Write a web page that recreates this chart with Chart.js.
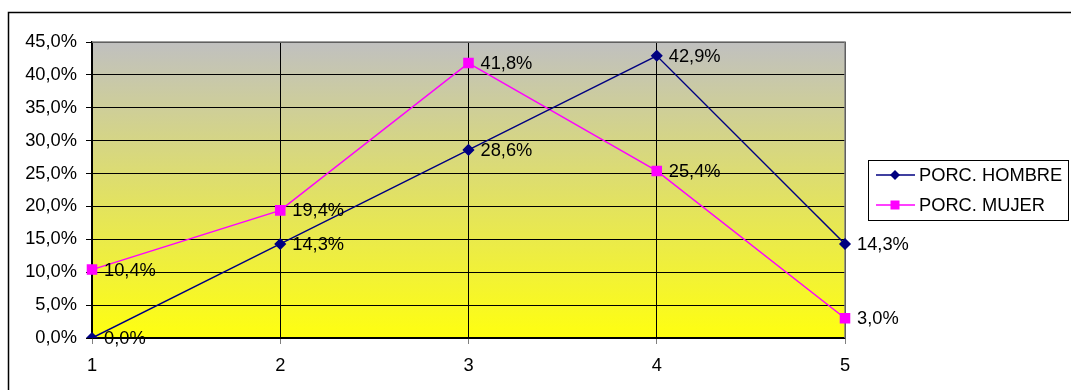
<!DOCTYPE html>
<html lang="es">
<head>
<meta charset="UTF-8" />
<title>Porcentaje hombre / mujer</title>
<style>
  html, body { margin: 0; padding: 0; background: #fff; }
  #wrap { position: relative; width: 1071px; height: 390px; }
</style>
</head>
<body>
<div id="wrap">
  <canvas id="grafico" width="1071" height="390"></canvas>
</div>

<script src="https://cdn.jsdelivr.net/npm/chart.js"></script>
<script>
  // datos
  const categorias = ['1', '2', '3', '4', '5'];
  const porcHombre = [0.0, 14.3, 28.6, 42.9, 14.3];
  const porcMujer = [10.4, 19.4, 41.8, 25.4, 3.0];
  const nombres = ['PORC. HOMBRE', 'PORC. MUJER'];
  const colores = ['#000080', '#ff00ff'];

  const fuente = '18.3px "Liberation Sans", Arial, sans-serif';

  function fmt(v) {
    return v.toFixed(1).replace('.', ',') + '%';
  }

  // fondo degradado + marco exterior
  const fondo = {
    id: 'fondo',
    beforeDraw(chart) {
      const { ctx, chartArea: a } = chart;
      ctx.save();
      ctx.strokeStyle = '#000';
      ctx.lineWidth = 1.5;
      ctx.strokeRect(8.5, 12.5, 1080, 400);
      const g = ctx.createLinearGradient(0, a.top, 0, a.bottom);
      g.addColorStop(0, '#c0c0c0');
      g.addColorStop(1, '#ffff10');
      ctx.fillStyle = g;
      ctx.fillRect(a.left, a.top, a.right - a.left, a.bottom - a.top);
      ctx.restore();
    },
    beforeDatasetsDraw(chart) {
      const { ctx, chartArea: a } = chart;
      ctx.save();
      ctx.strokeStyle = '#808080';
      ctx.lineWidth = 1.5;
      ctx.beginPath();
      ctx.moveTo(a.left, a.top);
      ctx.lineTo(a.right, a.top);
      ctx.lineTo(a.right, a.bottom);
      ctx.stroke();
      ctx.restore();
    }
  };

  // etiquetas de valores y leyenda
  const etiquetas = {
    id: 'etiquetas',
    afterDatasetsDraw(chart) {
      const ctx = chart.ctx;
      ctx.save();
      ctx.font = fuente;
      ctx.fillStyle = '#000';
      ctx.textBaseline = 'middle';
      ctx.textAlign = 'left';
      chart.data.datasets.forEach((ds, i) => {
        chart.getDatasetMeta(i).data.forEach((p, j) => {
          ctx.fillText(fmt(ds.data[j]), p.x + 12, p.y + 1);
        });
      });

      // leyenda
      const lx = 868, ly = 160, lw = 200, lh = 60;
      ctx.fillStyle = '#fff';
      ctx.fillRect(lx, ly, lw, lh);
      ctx.strokeStyle = '#000';
      ctx.lineWidth = 1;
      ctx.strokeRect(lx + 0.5, ly + 0.5, lw, lh);
      nombres.forEach((n, i) => {
        const y = ly + 15 + i * 30;
        ctx.strokeStyle = colores[i];
        ctx.lineWidth = 1.5;
        ctx.beginPath();
        ctx.moveTo(876, y);
        ctx.lineTo(915, y);
        ctx.stroke();
        ctx.fillStyle = colores[i];
        ctx.beginPath();
        if (i === 0) {
          ctx.moveTo(895 - 5, y);
          ctx.lineTo(895, y - 5);
          ctx.lineTo(895 + 5, y);
          ctx.lineTo(895, y + 5);
          ctx.closePath();
        } else {
          ctx.rect(895 - 4.5, y - 4.5, 9, 9);
        }
        ctx.fill();
        ctx.fillStyle = '#000';
        ctx.fillText(n, 919, y + 1);
      });
      ctx.restore();
    }
  };

  const ctx = document.getElementById('grafico').getContext('2d');
  new Chart(ctx, {
    type: 'line',
    data: {
      labels: categorias,
      datasets: [
        {
          label: nombres[0],
          data: porcHombre,
          borderColor: colores[0],
          backgroundColor: colores[0],
          borderWidth: 1.5,
          pointStyle: 'rectRot',
          pointRadius: 5,
          tension: 0
        },
        {
          label: nombres[1],
          data: porcMujer,
          borderColor: colores[1],
          backgroundColor: colores[1],
          borderWidth: 1.5,
          pointStyle: 'rect',
          pointRadius: 6.4,
          tension: 0
        }
      ]
    },
    options: {
      responsive: false,
      animation: false,
      layout: { padding: { left: 0, top: 42, right: 226, bottom: 0 } },
      scales: {
        x: {
          offset: false,
          afterFit(s) { s.height = 52; },
          grid: { color: '#000', lineWidth: 1, tickLength: 6, tickColor: '#808080' },
          border: { color: '#000', width: 1.5 },
          ticks: { color: '#000', font: { family: '"Liberation Sans", Arial, sans-serif', size: 18.3 }, padding: 11, maxRotation: 0 }
        },
        y: {
          min: 0,
          max: 45,
          afterFit(s) { s.width = 92; },
          grid: { color: '#000', lineWidth: 1, tickLength: 6 },
          border: { color: '#000', width: 1.5 },
          ticks: {
            stepSize: 5,
            color: '#000',
            padding: 9,
            font: { family: '"Liberation Sans", Arial, sans-serif', size: 18.3 },
            callback: v => fmt(v)
          }
        }
      },
      plugins: {
        legend: { display: false },
        tooltip: { enabled: false }
      }
    },
    plugins: [fondo, etiquetas]
  });
</script>
</body>
</html>
